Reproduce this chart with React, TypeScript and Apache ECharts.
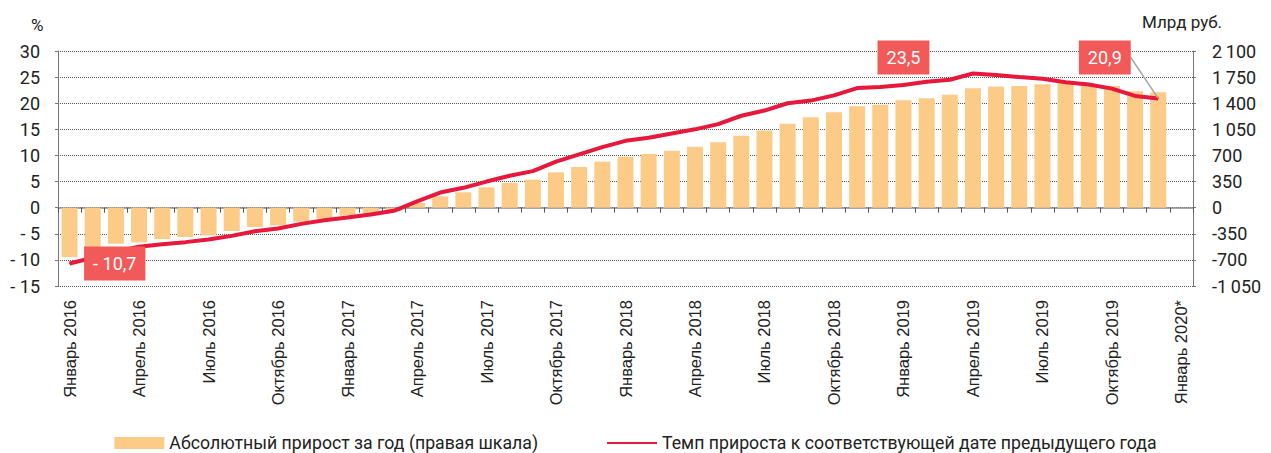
import React, { useEffect, useRef } from "react";
import * as echarts from "echarts";

const categories = [
  "Январь 2016", "Февраль 2016", "Март 2016", "Апрель 2016", "Май 2016", "Июнь 2016",
  "Июль 2016", "Август 2016", "Сентябрь 2016", "Октябрь 2016", "Ноябрь 2016", "Декабрь 2016",
  "Январь 2017", "Февраль 2017", "Март 2017", "Апрель 2017", "Май 2017", "Июнь 2017",
  "Июль 2017", "Август 2017", "Сентябрь 2017", "Октябрь 2017", "Ноябрь 2017", "Декабрь 2017",
  "Январь 2018", "Февраль 2018", "Март 2018", "Апрель 2018", "Май 2018", "Июнь 2018",
  "Июль 2018", "Август 2018", "Сентябрь 2018", "Октябрь 2018", "Ноябрь 2018", "Декабрь 2018",
  "Январь 2019", "Февраль 2019", "Март 2019", "Апрель 2019", "Май 2019", "Июнь 2019",
  "Июль 2019", "Август 2019", "Сентябрь 2019", "Октябрь 2019", "Ноябрь 2019", "Декабрь 2019",
  "Январь 2020*",
];

// Абсолютный прирост за год, млрд руб. (правая шкала)
const absoluteGrowth = [
  -661, -540, -483, -465, -420, -393, -371, -313, -259, -237, -188, -147,
  -107, -85, -45, 63, 152, 206, 272, 331, 375, 474, 545, 617,
  684, 720, 764, 818, 876, 965, 1036, 1126, 1211, 1278, 1358, 1381,
  1439, 1466, 1515, 1600, 1623, 1631, 1653, 1671, 1640, 1631, 1560, 1546,
  null,
];

// Темп прироста, %
const growthRate = [
  -10.7, -9.6, -8.4, -7.5, -7.0, -6.6, -6.1, -5.4, -4.5, -4.0, -3.1, -2.4,
  -1.9, -1.3, -0.6, 1.2, 2.9, 3.8, 5.0, 6.1, 7.0, 8.8, 10.2, 11.6,
  12.8, 13.4, 14.2, 15.0, 16.0, 17.6, 18.6, 20.0, 20.5, 21.5, 22.9, 23.1,
  23.5, 24.1, 24.5, 25.7, 25.4, 25.0, 24.7, 24.0, 23.6, 22.8, 21.4, 20.9,
  null,
];

const leftTicks = { min: -15, max: 30, interval: 5 };
const rightTicks = { min: -1050, max: 2100, interval: 350 };

const annotations = [
  { index: 0, text: "- 10,7" },
  { index: 36, text: "23,5" },
  { index: 47, text: "20,9" },
];

const legendBar = "Абсолютный прирост за год (правая шкала)";
const legendLine = "Темп прироста к соответствующей дате предыдущего года";

const FONT = "Roboto";

function fmtThousands(v: number): string {
  const neg = v < 0;
  const s = String(Math.abs(v));
  const parts = s.length > 3 ? s.slice(0, s.length - 3) + "\u2009" + s.slice(s.length - 3) : s;
  return (neg ? "-" : "") + parts;
}

export default function App() {
  const ref = useRef<HTMLDivElement>(null);

  useEffect(() => {
    if (!ref.current) return;
    const chart = echarts.init(ref.current, undefined, { renderer: "svg" });

    const boxStyle = {
      show: true,
      backgroundColor: "#F25A5A",
      color: "#ffffff",
      fontSize: 18,
      fontFamily: FONT,
      padding: [7, 9, 7, 9],
      lineHeight: 20,
    };

    const lineData = growthRate.map((v, i) => {
      const a = annotations.find((x) => x.index === i);
      if (!a) return v;
      if (i === 0) {
        return { value: v, label: { ...boxStyle, formatter: a.text, position: "right", distance: 14 } };
      }
      if (i === 47) {
        return {
          value: v,
          label: { ...boxStyle, formatter: a.text, position: "left", distance: 5 },
          labelLine: { show: true, lineStyle: { color: "#A6A6A6", width: 1.5 } },
        };
      }
      return { value: v, label: { ...boxStyle, formatter: a.text, position: "top", distance: 10, offset: [5, 0] } };
    });

    const option: any = {
      animation: false,
      textStyle: { fontFamily: FONT },
      grid: { left: 58, right: 78, top: 51, bottom: 167, containLabel: false },
      legend: {
        left: "center",
        top: 429,
        itemWidth: 50,
        itemHeight: 12,
        itemGap: 68,
        textStyle: { fontSize: 17.7, color: "#222", fontFamily: FONT },
        data: [
          { name: legendBar, icon: "rect" },
          { name: legendLine, itemStyle: { opacity: 0 } },
        ],
      },
      graphic: [
        { type: "text", left: 31, top: 16, style: { text: "%", fontSize: 17, fill: "#222", fontFamily: FONT } },
        { type: "text", left: 1142, top: 13, style: { text: "Млрд руб.", fontSize: 17, fill: "#222", fontFamily: FONT } },
      ],
      xAxis: [
        {
          type: "category",
          data: categories,
          position: "bottom",
          boundaryGap: true,
          axisLine: { show: false, onZero: false },
          axisTick: { show: false },
          splitLine: { show: false },
          axisLabel: {
            interval: 2,
            rotate: 90,
            margin: 14,
            fontSize: 16.5,
            fontFamily: "Liberation Sans",
            color: "#222",
          },
        },
        {
          type: "category",
          data: categories,
          position: "top",
          boundaryGap: true,
          axisLine: { show: true, onZero: true, onZeroAxisIndex: 0, lineStyle: { color: "#8C8C8C", width: 1.5 } },
          axisTick: { show: true, inside: true, length: 5, interval: 0, lineStyle: { color: "#555", width: 1 } },
          axisLabel: { show: false },
          splitLine: { show: false },
        },
      ],
      yAxis: [
        {
          type: "value",
          position: "left",
          min: leftTicks.min,
          max: leftTicks.max,
          interval: leftTicks.interval,
          axisLine: { show: true, lineStyle: { color: "#777", width: 1 } },
          axisTick: { show: true, length: 3, lineStyle: { color: "#777" } },
          axisLabel: {
            fontSize: 18,
            color: "#222",
            margin: 18,
            fontFamily: FONT,
            formatter: (v: number) => (v < 0 ? "- " + Math.abs(v) : String(v)),
          },
          splitLine: { show: true, lineStyle: { type: "dotted", color: "#555", width: 1 } },
        },
        {
          type: "value",
          position: "right",
          min: rightTicks.min,
          max: rightTicks.max,
          interval: rightTicks.interval,
          axisLine: { show: true, lineStyle: { color: "#777", width: 1 } },
          axisTick: { show: true, length: 3, lineStyle: { color: "#777" } },
          axisLabel: {
            fontSize: 18,
            color: "#222",
            margin: 19,
            fontFamily: FONT,
            formatter: (v: number) => fmtThousands(v),
          },
          splitLine: { show: false },
        },
      ],
      series: [
        {
          name: legendBar,
          type: "bar",
          xAxisIndex: 0,
          yAxisIndex: 1,
          data: absoluteGrowth,
          barWidth: 16,
          itemStyle: { color: "#FDCB88" },
          z: 2,
        },
        {
          name: legendLine,
          type: "line",
          xAxisIndex: 0,
          yAxisIndex: 0,
          data: lineData,
          symbol: "circle",
          symbolSize: 1,
          showSymbol: true,
          showAllSymbol: true,
          itemStyle: { color: "#E8173C" },
          lineStyle: { color: "#E8173C", width: 4 },
          labelLayout: (params: any) => (params.dataIndex === 47 ? { dx: -22, dy: -41 } : {}),
          z: 3,
        },
      ],
    };

    chart.setOption(option);
    return () => chart.dispose();
  }, []);

  return (
    <div
      ref={ref}
      style={{ position: "fixed", left: 0, top: 0, width: 1271, height: 453, background: "#fff" }}
    />
  );
}
